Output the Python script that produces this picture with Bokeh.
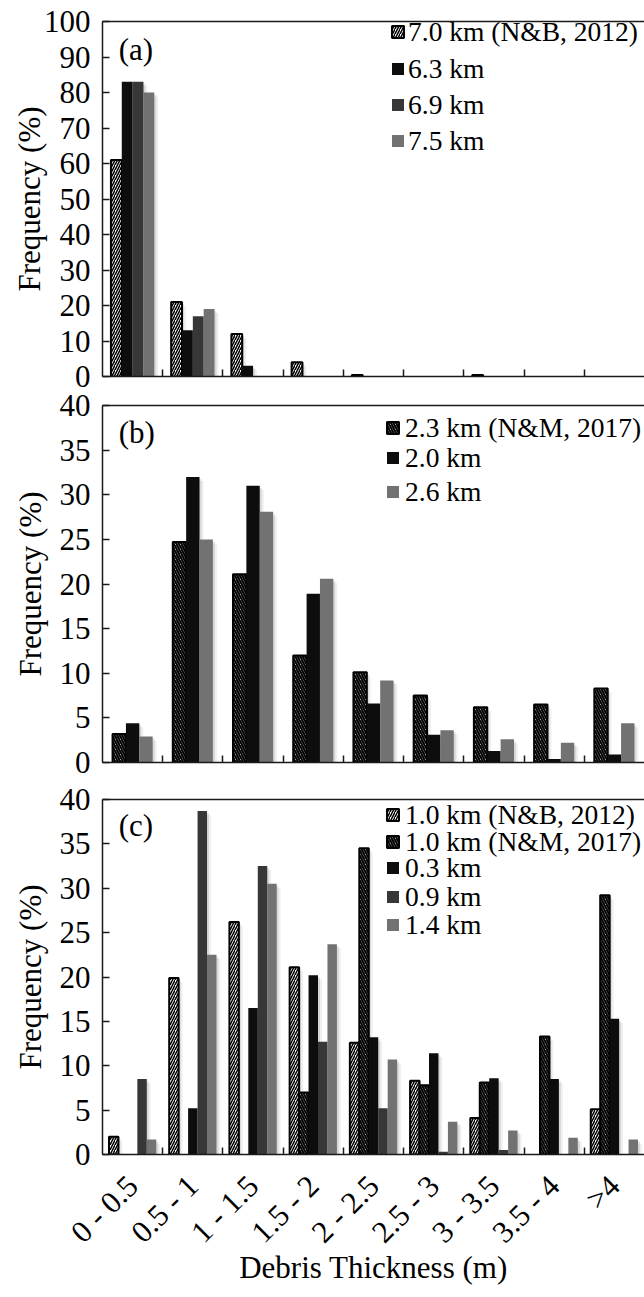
import math
from bokeh.plotting import figure
from bokeh.models import (ColumnDataSource, FixedTicker, LinearAxis, Legend,
                          LegendItem, Label, Range1d, CDSView, BooleanFilter)
from bokeh.layouts import column
from bokeh.transform import dodge
from bokeh.embed import file_html
from bokeh.resources import INLINE

# ---------------- data ----------------
categories = ["0 - 0.5", "0.5 - 1", "1 - 1.5", "1.5 - 2", "2 - 2.5",
              "2.5 - 3", "3 - 3.5", "3.5 - 4", ">4"]

# panel (a)
a_labels = ["7.0 km (N&B, 2012)", "6.3 km", "6.9 km", "7.5 km"]
a_70_nb = [61, 21, 12, 4, 0.4, 0, 0.4, 0, 0]
a_63 = [83, 13, 3, 0, 0, 0, 0, 0, 0]
a_69 = [83, 17, 0, 0, 0, 0, 0, 0, 0]
a_75 = [80, 19, 0, 0, 0, 0, 0, 0, 0]

# panel (b)
b_labels = ["2.3 km (N&M, 2017)", "2.0 km", "2.6 km"]
b_23_nm = [3.2, 24.7, 21.1, 12.0, 10.1, 7.5, 6.2, 6.5, 8.3]
b_20 = [4.4, 32.0, 31.0, 18.9, 6.6, 3.1, 1.3, 0.4, 0.9]
b_26 = [2.9, 25.0, 28.1, 20.6, 9.2, 3.6, 2.6, 2.2, 4.4]

# panel (c)
c_labels = ["1.0 km (N&B, 2012)", "1.0 km (N&M, 2017)", "0.3 km", "0.9 km", "1.4 km"]
c_10_nb = [2.0, 19.9, 26.2, 21.1, 12.6, 8.3, 4.1, 0, 5.1]
c_10_nm = [0, 0, 0, 7.0, 34.5, 7.8, 8.1, 13.3, 29.2]
c_03 = [0, 5.2, 16.5, 20.2, 13.2, 11.4, 8.6, 8.5, 15.3]
c_09 = [8.5, 38.7, 32.5, 12.7, 5.2, 0.3, 0.5, 0, 0]
c_14 = [1.7, 22.5, 30.5, 23.7, 10.7, 3.7, 2.7, 1.9, 1.7]

y_title = "Frequency (%)"
x_title = "Debris Thickness (m)"

# ---------------- styles ----------------
FONT = "Liberation Serif"
BLACK = "#0d0d0d"
DARK = "#373737"
GRAY = "#727272"
NB = dict(fill_color="white", line_color="black", line_width=2,
          hatch_pattern="/", hatch_color="black", hatch_weight=1.5, hatch_scale=5)
NM = dict(fill_color="white", line_color="black", line_width=2,
          hatch_pattern="\\", hatch_color="black", hatch_weight=2, hatch_scale=5)


def solid(c):
    return dict(fill_color=c, line_color=None)


AX_COLOR = "#1a1a1a"
FRAME_W = 542
LEFT = 102
ROW_H = 31
SHADOWS = [(4, 0.06), (2, 0.10)]   # (offset px, alpha) soft drop shadow layers


def make_panel(series, labels, styles, ymax, ystep, tag, top, frame_h, bottom,
               bar_w, ytitle_standoff, leg_x, leg_standoff, leg_rows, tag_top_px,
               last=False):
    ncat = len(categories)
    p = figure(frame_width=FRAME_W, frame_height=frame_h,
               x_range=Range1d(0, ncat), y_range=Range1d(0, ymax),
               x_axis_type=None, y_axis_type=None,
               output_backend="svg", toolbar_location=None,
               min_border_left=LEFT, min_border_right=0,
               min_border_top=top, min_border_bottom=bottom,
               outline_line_color=None, background_fill_color="white")
    p.xgrid.visible = False
    p.ygrid.visible = False

    px_x = ncat / FRAME_W
    px_y = ymax / frame_h

    data = {"x": [i + 0.5 for i in range(ncat)]}
    for k, s in enumerate(series):
        data["s%d" % k] = s
        for j, (d, _) in enumerate(SHADOWS):
            data["h%d_%d" % (k, j)] = [max(v - d * px_y, 0) for v in s]
    src = ColumnDataSource(data)

    n = len(series)
    views = [CDSView(filter=BooleanFilter([v > 0 for v in s])) for s in series]
    offs = [(k - (n - 1) / 2) * bar_w for k in range(n)]

    # soft shadows (drawn first, underneath)
    for k in range(n):
        for j, (d, a) in enumerate(SHADOWS):
            p.vbar(x=dodge("x", offs[k] + d * px_x, range=p.x_range),
                   top="h%d_%d" % (k, j), bottom=0, width=bar_w, source=src,
                   view=views[k], fill_color="black", fill_alpha=a, line_color=None)

    renderers = []
    for k in range(n):
        r = p.vbar(x=dodge("x", offs[k], range=p.x_range), top="s%d" % k, bottom=0,
                   width=bar_w, source=src, view=views[k], **styles[k])
        renderers.append(r)

    # y axis
    yax = LinearAxis(ticker=FixedTicker(ticks=list(range(0, ymax + 1, ystep))),
                     axis_label=y_title)
    yax.axis_line_color = AX_COLOR
    yax.axis_line_width = 1.5
    yax.major_tick_in = 7
    yax.major_tick_out = 0
    yax.major_tick_line_color = AX_COLOR
    yax.major_tick_line_width = 1.5
    yax.minor_tick_line_color = None
    yax.major_label_standoff = 12
    yax.major_label_text_font = FONT
    yax.major_label_text_font_size = "31px"
    yax.major_label_text_color = "black"
    yax.axis_label_text_font = FONT
    yax.axis_label_text_font_size = "31px"
    yax.axis_label_text_font_style = "normal"
    yax.axis_label_text_color = "black"
    yax.axis_label_standoff = ytitle_standoff
    p.add_layout(yax, "left")

    # bottom axis: boundary ticks as minor ticks, category labels (panel c) as majors
    centers = [i + 0.5 for i in range(ncat)]
    bounds = list(range(1, ncat))
    bax = LinearAxis(ticker=FixedTicker(ticks=centers if last else [], minor_ticks=bounds))
    bax.axis_line_color = AX_COLOR
    bax.axis_line_width = 1.5
    bax.major_tick_line_color = None
    bax.minor_tick_in = 7
    bax.minor_tick_out = 0
    bax.minor_tick_line_color = AX_COLOR
    bax.minor_tick_line_width = 1.5
    if last:
        bax.major_label_overrides = {c: lab for c, lab in zip(centers, categories)}
        bax.major_label_orientation = math.pi / 4
        bax.major_label_standoff = 20
        bax.major_label_text_font = FONT
        bax.major_label_text_font_size = "31px"
        bax.major_label_text_color = "black"
        bax.axis_label = x_title
        bax.axis_label_text_font = FONT
        bax.axis_label_text_font_size = "31px"
        bax.axis_label_text_font_style = "normal"
        bax.axis_label_text_color = "black"
        bax.axis_label_standoff = -15
    p.add_layout(bax, "below")

    # top frame line
    tax = LinearAxis(ticker=FixedTicker(ticks=[]))
    tax.axis_line_color = AX_COLOR
    tax.axis_line_width = 1.5
    tax.major_tick_line_color = None
    tax.minor_tick_line_color = None
    tax.major_label_standoff = 0
    p.add_layout(tax, "above")

    # legend: one row per Legend so that each row sits where the reference has it
    for lab, r, row_off in zip(labels, renderers, leg_rows):
        vy = frame_h - row_off - ROW_H / 2
        leg = Legend(items=[LegendItem(label=lab, renderers=[r])],
                     location=(leg_x, vy),
                     background_fill_alpha=0, border_line_color=None,
                     margin=0, padding=0,
                     glyph_width=15, glyph_height=15, label_standoff=leg_standoff,
                     spacing=0, label_height=20,
                     label_text_font=FONT, label_text_font_size="27.5px",
                     label_text_color="black")
        p.add_layout(leg)

    p.add_layout(Label(x=0.27, y=ymax, y_offset=-tag_top_px, text=tag,
                       text_font=FONT, text_font_size="31px", text_color="black",
                       text_baseline="top"))
    return p


pa = make_panel([a_70_nb, a_63, a_69, a_75], a_labels,
                [NB, solid(BLACK), solid(DARK), solid(GRAY)],
                100, 10, "(a)", 21, 355, 14, 0.18, -6,
                288, 3, [11, 48, 84, 120], 10)
pb = make_panel([b_23_nm, b_20, b_26], b_labels,
                [NM, solid(BLACK), solid(GRAY)],
                40, 5, "(b)", 15, 357, 23, 0.222, 9,
                283, 5, [23, 53, 87], 9)
pc = make_panel([c_10_nb, c_10_nm, c_03, c_09, c_14], c_labels,
                [NB, NM, solid(BLACK), solid(DARK), solid(GRAY)],
                40, 5, "(c)", 14, 355, 135, 0.157, 9,
                283, 5, [16, 43, 69, 98, 126], 8, last=True)

layout = column(pa, pb, pc, spacing=0)
open("out.html", "w").write(file_html(layout, INLINE))
